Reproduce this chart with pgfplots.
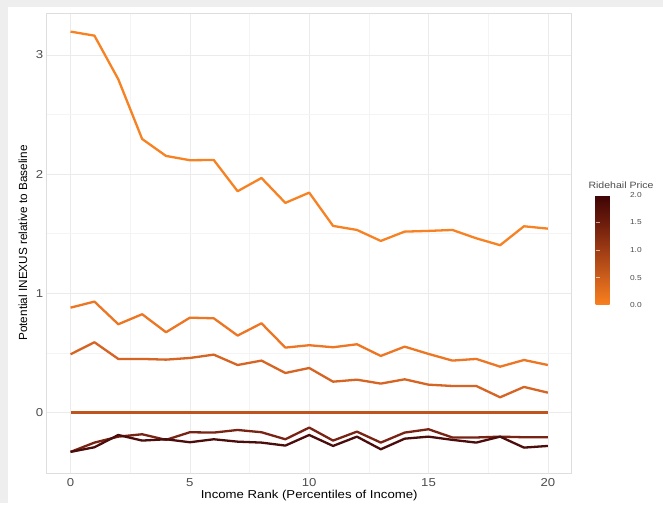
\documentclass[border=0pt]{standalone}
\usepackage{fontspec}
\setmainfont{Liberation Sans}[FakeStretch=1.15]
\newfontfamily\yfont{Liberation Sans}
\usepackage{pgfplots}
\usepackage{pgfplotstable}
\pgfplotsset{compat=1.18}
\definecolor{bggray}{RGB}{238,238,238}
\definecolor{cP0}{RGB}{247,130,35}
\definecolor{cPa}{RGB}{236,118,35}
\definecolor{cPb}{RGB}{214,100,35}
\definecolor{cPz}{RGB}{190,85,30}
\definecolor{cPc}{RGB}{120,35,20}
\definecolor{cPd}{RGB}{75,12,12}
\definecolor{ticktxt}{RGB}{77,77,77}

\pgfplotstableread{
x top A B Z C D
0 3.195 0.879 0.488 0 -0.331 -0.331
1 3.161 0.930 0.589 0 -0.253 -0.292
2 2.795 0.740 0.449 0 -0.203 -0.189
3 2.294 0.824 0.449 0 -0.183 -0.236
4 2.152 0.673 0.443 0 -0.230 -0.225
5 2.116 0.795 0.457 0 -0.166 -0.250
6 2.118 0.790 0.485 0 -0.169 -0.225
7 1.856 0.645 0.398 0 -0.147 -0.245
8 1.967 0.748 0.435 0 -0.166 -0.253
9 1.758 0.544 0.331 0 -0.225 -0.278
10 1.844 0.564 0.373 0 -0.127 -0.189
11 1.565 0.547 0.258 0 -0.236 -0.281
12 1.531 0.572 0.275 0 -0.161 -0.203
13 1.439 0.474 0.242 0 -0.253 -0.309
14 1.517 0.552 0.278 0 -0.169 -0.220
15 1.523 0.491 0.233 0 -0.141 -0.203
16 1.531 0.435 0.222 0 -0.210 -0.230
17 1.461 0.449 0.222 0 -0.210 -0.253
18 1.403 0.384 0.127 0 -0.203 -0.203
19 1.562 0.440 0.214 0 -0.208 -0.295
20 1.542 0.398 0.166 0 -0.208 -0.281
}\datatable

\begin{document}
\begin{tikzpicture}[x=1bp,y=1bp]
\fill[bggray] (0,0) rectangle (663,503);
\fill[white] (8,0) rectangle (663,496);
\begin{axis}[
  at={(46.7bp,30bp)}, anchor=south west,
  scale only axis, width=525bp, height=459.5bp,
  xmin=-1, xmax=21, ymin=-0.508, ymax=3.347,
  xtick={0,5,10,15,20}, minor xtick={2.5,7.5,12.5,17.5},
  ytick={0,1,2,3}, minor ytick={0.5,1.5,2.5},
  grid=both,
  major grid style={draw={rgb,255:red,235;green,235;blue,235}, line width=0.6bp},
  minor grid style={draw={rgb,255:red,244;green,244;blue,244}, line width=0.5bp},
  axis line style={draw={rgb,255:red,222;green,222;blue,222}, line width=0.8bp},
  major tick length=0pt, minor tick length=0pt,
  /pgf/number format/assume math mode=true,
  tick label style={font=\fontsize{11.5}{12}\selectfont, text=ticktxt},
  xticklabel style={yshift=-2bp},
  xlabel={Income Rank (Percentiles of Income)},
  xlabel style={font=\fontsize{11.5}{12}\selectfont, yshift=3bp},
  point meta min=0, point meta max=2,
  colormap={ride}{rgb255=(250,128,30) rgb255=(205,95,28) rgb255=(158,60,20) rgb255=(108,28,12) rgb255=(62,4,4)},
  colorbar,
  colorbar style={
    at={(parent axis.south east)}, anchor=south west,
    xshift=15.3bp, yshift=168bp,
    scale only axis, width=26bp, height=110bp,
    ytick={0,0.5,1,1.5,2},
    ytick pos=both, yticklabel pos=right, ytick align=inside,
    yticklabel style={font=\fontsize{7.3}{8}\selectfont, text=ticktxt, xshift=5bp,
      /pgf/number format/fixed, /pgf/number format/fixed zerofill,
      /pgf/number format/precision=1, /pgf/number format/assume math mode=true},
    major tick length=4bp,
    tick style={draw=white, line width=0.6bp, opacity=0.6},
    axis line style={draw=none},
  },
  every axis plot/.append style={line width=2.3bp, line join=round},
]
\addplot[cP0] table[x=x, y=top] {\datatable};
\addplot[cPa] table[x=x, y=A] {\datatable};
\addplot[cPb] table[x=x, y=B] {\datatable};
\addplot[cPz] table[x=x, y=Z] {\datatable};
\addplot[cPc] table[x=x, y=C] {\datatable};
\addplot[cPd] table[x=x, y=D] {\datatable};
\end{axis}
\node[rotate=90, font=\yfont\fontsize{11.8}{12}\selectfont] at (23,260) {Potential INEXUS relative to Baseline};
\node[anchor=west, font=\fontsize{9.2}{10}\selectfont, text=ticktxt] at (585,318) {Ridehail Price};
\end{tikzpicture}
\end{document}
